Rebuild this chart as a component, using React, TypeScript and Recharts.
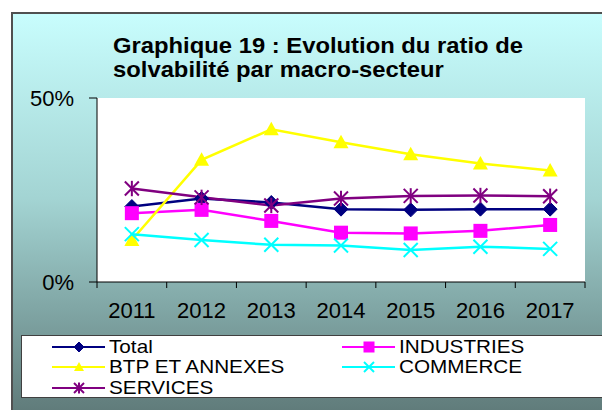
import React from "react";
import { LineChart, Line, XAxis, YAxis, CartesianGrid } from "recharts";

const years = ["2011", "2012", "2013", "2014", "2015", "2016", "2017"];
const total = [20.5, 22.7, 21.6, 19.8, 19.6, 19.8, 19.8];
const industries = [18.7, 19.6, 16.6, 13.4, 13.2, 13.9, 15.5];
const btp = [11.4, 33.2, 41.5, 38.0, 34.7, 32.2, 30.3];
const commerce = [13.0, 11.4, 10.1, 9.9, 8.7, 9.6, 9.0];
const services = [25.4, 23.0, 20.8, 22.7, 23.4, 23.5, 23.3];
const yTicks = [0, 50];
const titleLines = ["Graphique 19 : Evolution du ratio de", "solvabilité par macro-secteur"];

const FONT = "'Liberation Sans', Arial, sans-serif";
const W = 602;
const H = 410;
const PLOT_LEFT = 97;
const MARGIN_RIGHT = 17;
const BAND = (W - PLOT_LEFT - MARGIN_RIGHT) / years.length;
const X_TICK_MARGIN = 20;

type Shape = "diamond" | "square" | "triangle" | "x" | "star";

const series: { key: string; name: string; color: string; shape: Shape; values: number[] }[] = [
  { key: "total", name: "Total", color: "#000080", shape: "diamond", values: total },
  { key: "industries", name: "INDUSTRIES", color: "#FF00FF", shape: "square", values: industries },
  { key: "btp", name: "BTP ET ANNEXES", color: "#FFFF00", shape: "triangle", values: btp },
  { key: "commerce", name: "COMMERCE", color: "#00FFFF", shape: "x", values: commerce },
  { key: "services", name: "SERVICES", color: "#800080", shape: "star", values: services },
];

const data = years.map((y, i) => {
  const row: Record<string, string | number> = { year: y };
  series.forEach((s) => (row[s.key] = s.values[i]));
  return row;
});

function Marker({ shape, color, cx, cy, r }: { shape: Shape; color: string; cx: number; cy: number; r: number }) {
  switch (shape) {
    case "diamond":
      return <path d={`M${cx},${cy - r}L${cx + r},${cy}L${cx},${cy + r}L${cx - r},${cy}Z`} fill={color} stroke={color} />;
    case "square":
      return <rect x={cx - r} y={cy - r} width={2 * r} height={2 * r} fill={color} />;
    case "triangle":
      return <path d={`M${cx},${cy - r}L${cx + r},${cy + r * 0.8}L${cx - r},${cy + r * 0.8}Z`} fill={color} />;
    case "x":
      return (
        <g stroke={color} strokeWidth={2}>
          <line x1={cx - r} y1={cy - r} x2={cx + r} y2={cy + r} />
          <line x1={cx - r} y1={cy + r} x2={cx + r} y2={cy - r} />
        </g>
      );
    case "star":
      return (
        <g stroke={color} strokeWidth={2}>
          <line x1={cx - r} y1={cy - r} x2={cx + r} y2={cy + r} />
          <line x1={cx - r} y1={cy + r} x2={cx + r} y2={cy - r} />
          <line x1={cx} y1={cy - r * 1.1} x2={cx} y2={cy + r * 1.1} />
        </g>
      );
  }
  return null;
}

const plotSize: Record<Shape, number> = { diamond: 7, square: 7, triangle: 7.5, x: 7, star: 7 };
const legendSize: Record<Shape, number> = { diamond: 5, square: 5.5, triangle: 5, x: 5, star: 5 };

function makeDot(shape: Shape, color: string) {
  return (props: any) => {
    const { cx, cy, index } = props;
    if (cx == null || cy == null) return <g key={`n-${index}`} />;
    return (
      <g key={`${shape}-${index}`}>
        <Marker shape={shape} color={color} cx={cx} cy={cy} r={plotSize[shape]} />
      </g>
    );
  };
}

function XTick(props: any) {
  const { x, y, payload, index } = props;
  const axisY = y - X_TICK_MARGIN;
  const half = BAND / 2;
  return (
    <g>
      {index === 0 && <line x1={x - half} x2={x - half} y1={axisY} y2={axisY + 6} stroke="#000" />}
      <line x1={x + half} x2={x + half} y1={axisY} y2={axisY + 6} stroke="#000" />
      <text x={x} y={y} dy="0.71em" textAnchor="middle" fill="#000" fontSize={22} fontFamily={FONT}>
        {payload.value}
      </text>
    </g>
  );
}

const legendCols = [51.7, 341.7];
const legendRowTop = [2, 22, 43];

export default function App() {
  return (
    <div style={{ position: "absolute", left: 0, top: 0, width: W, height: H, overflow: "hidden", fontFamily: FONT }}>
      <div
        style={{
          position: "absolute",
          left: 11,
          top: 12,
          width: W,
          height: H,
          borderLeft: "2px solid #505050",
          borderTop: "2px solid #505050",
          background: "linear-gradient(to bottom, #c8fdfd 0%, #a3d4d3 45%, #5c7675 100%)",
        }}
      />
      <div
        style={{
          position: "absolute",
          left: 113,
          top: 34,
          fontSize: 22.5,
          lineHeight: "23.5px",
          fontWeight: "bold",
          color: "#000",
          whiteSpace: "nowrap",
          transform: "scaleX(1.058)",
          transformOrigin: "left top",
        }}
      >
        {titleLines.map((t) => (
          <div key={t}>{t}</div>
        ))}
      </div>
      <div style={{ position: "absolute", left: 0, top: 0 }}>
        <LineChart width={W} height={H} data={data} margin={{ top: 98, right: MARGIN_RIGHT, bottom: 98, left: 0 }}>
          <CartesianGrid horizontal={false} vertical={false} fill="#ffffff" />
          <XAxis
            xAxisId="top"
            orientation="top"
            dataKey="year"
            scale="band"
            height={0}
            tick={false}
            tickLine={false}
            axisLine={{ stroke: "#808080", strokeWidth: 2 }}
          />
          <YAxis
            yAxisId="right"
            orientation="right"
            width={0}
            domain={[0, 50]}
            tick={false}
            tickLine={false}
            axisLine={{ stroke: "#808080", strokeWidth: 2 }}
          />
          <XAxis
            dataKey="year"
            scale="band"
            height={30}
            interval={0}
            tickLine={false}
            tickSize={0}
            tickMargin={X_TICK_MARGIN}
            axisLine={{ stroke: "#000" }}
            tick={<XTick />}
          />
          <YAxis
            width={PLOT_LEFT}
            domain={[0, 50]}
            ticks={yTicks}
            tickSize={8}
            tickMargin={15}
            tickFormatter={(v: number) => `${v}%`}
            axisLine={{ stroke: "#000" }}
            tickLine={{ stroke: "#000" }}
            tick={{ fill: "#000", fontSize: 22, fontFamily: FONT }}
          />
          {series.map((s) => (
            <Line
              key={s.key}
              dataKey={s.key}
              name={s.name}
              stroke={s.color}
              strokeWidth={2.5}
              dot={makeDot(s.shape, s.color)}
              activeDot={false}
              isAnimationActive={false}
            />
          ))}
        </LineChart>
      </div>
      <div
        style={{
          position: "absolute",
          left: 21,
          top: 335,
          width: 600,
          height: 61,
          background: "#fff",
          border: "1px solid #404040",
        }}
      >
        {series.map((s, i) => {
          const col = i % 2;
          const row = Math.floor(i / 2);
          return (
            <div
              key={s.key}
              style={{
                position: "absolute",
                left: legendCols[col] - 22,
                top: legendRowTop[row],
                height: 18,
                display: "flex",
                alignItems: "center",
                whiteSpace: "nowrap",
              }}
            >
              <svg width={54} height={18} style={{ display: "block" }}>
                <line x1={0} x2={53} y1={9} y2={9} stroke={s.color} strokeWidth={2} />
                <Marker shape={s.shape} color={s.color} cx={27} cy={9} r={legendSize[s.shape]} />
              </svg>
              <span
                style={{
                  display: "inline-block",
                  fontSize: 19,
                  lineHeight: "18px",
                  color: "#000",
                  marginLeft: 3,
                  transform: "scaleX(1.09)",
                  transformOrigin: "left center",
                }}
              >
                {s.name}
              </span>
            </div>
          );
        })}
      </div>
    </div>
  );
}
